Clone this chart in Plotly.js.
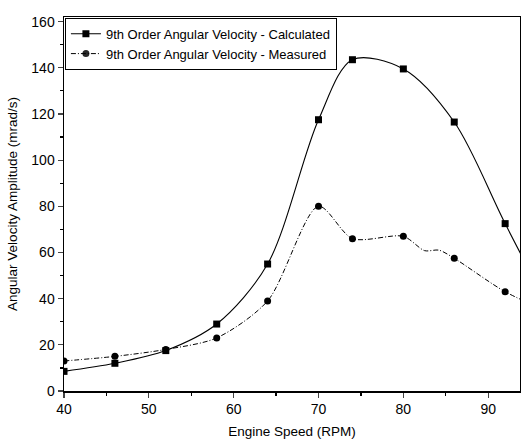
<!DOCTYPE html>
<html><head><meta charset="utf-8">
<script src="https://cdn.plot.ly/plotly-3.0.1.min.js"></script>
<style>html,body{margin:0;padding:0;background:#fff}#c{width:521px;height:445px}</style>
</head><body><div id="c"></div>
<script>
const speed = [40, 46, 52, 58, 64, 70, 74, 80, 86, 92, 98];
const calculated = [8.5, 12, 17.5, 29, 55, 117.5, 143.5, 139.5, 116.5, 72.5, 30];
const measuredX = [40, 46, 52, 58, 64, 70, 74, 80, 82.5, 84.2, 86, 92, 98];
const measured = [13, 15, 18, 23, 39, 80, 66, 67, 60.8, 61, 57.5, 43, 33];
const measuredShown = [1, 1, 1, 1, 1, 1, 1, 1, 0, 0, 1, 1, 1];
const names = ["9th Order Angular Velocity - Calculated", "9th Order Angular Velocity - Measured"];

const traces = [
  {x: speed, y: calculated, name: names[0], mode: 'lines+markers',
   line: {shape: 'spline', smoothing: 0.9, color: '#000', width: 1.1},
   marker: {symbol: 'square', size: 7, color: '#000'}},
  {x: measuredX, y: measured, name: names[1], mode: 'lines+markers',
   line: {shape: 'spline', smoothing: 0.8, color: '#000', width: 1, dash: '5px,2px,1px,2px'},
   marker: {symbol: 'circle', size: 7, color: '#000', opacity: measuredShown}}
];
const layout = {
  width: 521, height: 445,
  margin: {l: 64, r: 1, t: 17, b: 54},
  paper_bgcolor: '#fff', plot_bgcolor: '#fff',
  font: {family: 'Liberation Sans, Arial, sans-serif', color: '#000', size: 14},
  showlegend: true,
  legend: {x: 0.002, y: 0.998, xanchor: 'left', yanchor: 'top', bordercolor: '#000', borderwidth: 1,
           bgcolor: '#fff', font: {size: 13}, tracegroupgap: 0, itemwidth: 30},
  xaxis: {range: [40, 93.75], tickvals: [40, 50, 60, 70, 80, 90], ticks: 'outside', ticklen: 5, tickwidth: 1.2,
          minor: {dtick: 5, ticks: 'outside', ticklen: 3, tickcolor: '#000'},
          showline: true, linecolor: '#000', linewidth: 1.5, mirror: true, showgrid: false, zeroline: false,
          title: {text: 'Engine Speed (RPM)', font: {size: 13.5}, standoff: 10}},
  yaxis: {range: [0, 162], tickvals: [0, 20, 40, 60, 80, 100, 120, 140, 160], ticks: 'outside', ticklen: 5, tickwidth: 1.2,
          minor: {dtick: 10, ticks: 'outside', ticklen: 3, tickcolor: '#000'},
          showline: true, linecolor: '#000', linewidth: 1.5, mirror: true, showgrid: false, zeroline: false,
          title: {text: 'Angular Velocity Amplitude (mrad/s)', font: {size: 13.5}, standoff: 10}}
};
Plotly.newPlot('c', traces, layout, {displayModeBar: false, staticPlot: true});
</script></body></html>
